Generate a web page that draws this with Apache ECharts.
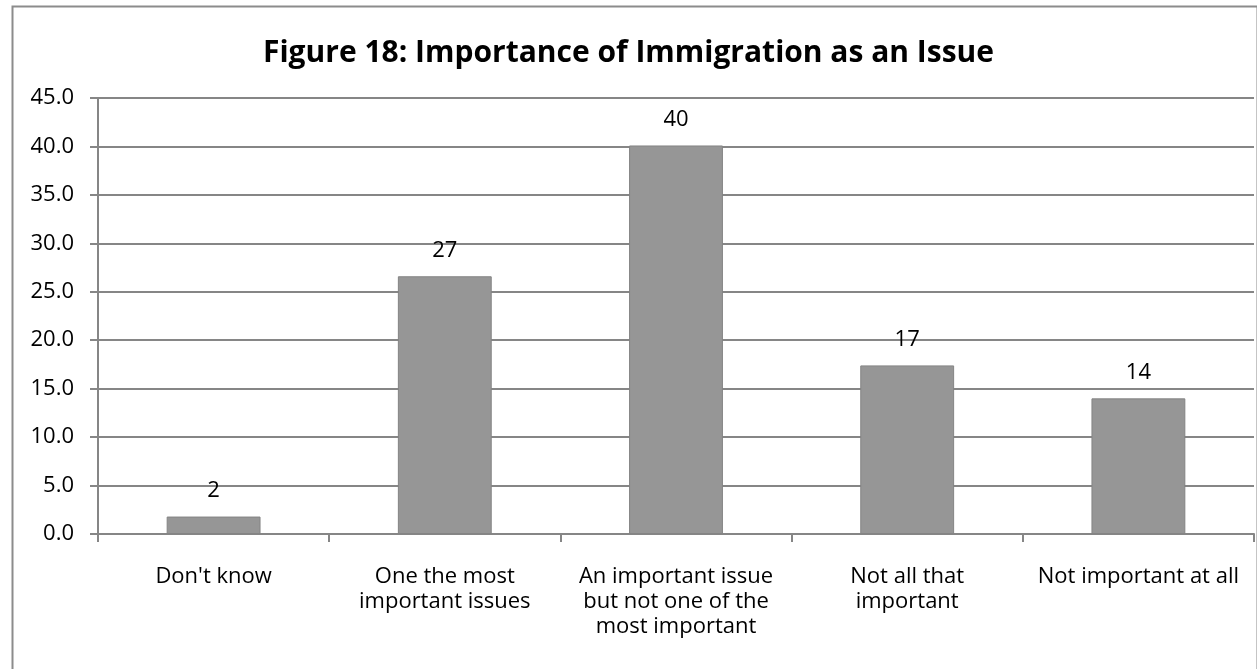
<!DOCTYPE html>
<html>
<head>
<meta charset="utf-8">
<script src="https://cdn.jsdelivr.net/npm/echarts@6/dist/echarts.min.js"></script>
<style>
html,body{margin:0;padding:0;background:#fff;}
#chart{width:1257px;height:669px;}
</style>
</head>
<body>
<div id="chart"></div>
<script>
const titleText = 'Figure 18: Importance of Immigration as an Issue';
const categories = ["Don't know", 'One the most important issues', 'An important issue but not one of the most important', 'Not all that important', 'Not important at all'];
const categoryLabels = ["Don't know", 'One the most\nimportant issues', 'An important issue\nbut not one of the\nmost important', 'Not all that\nimportant', 'Not important at all'];
const values = [1.8, 26.6, 40.1, 17.4, 14.0];
const yMin = 0, yMax = 45, yStep = 5;

const FONT = '"Open Sans", Lato, sans-serif';
const chart = echarts.init(document.getElementById('chart'), null, {renderer: 'canvas'});
chart.setOption({
  animation: false,
  backgroundColor: '#fff',
  title: {
    text: titleText,
    left: 'center',
    top: 33,
    textStyle: {fontFamily: FONT, fontSize: 30, fontWeight: 'bold', color: '#000'}
  },
  graphic: [{
    type: 'rect', left: 10, top: 4,
    shape: {width: 1245, height: 680},
    style: {fill: 'none', stroke: '#8c8c8c', lineWidth: 2},
    silent: true, z: -1
  }],
  grid: {left: 98, right: 3, top: 98, bottom: 135, containLabel: false},
  xAxis: {
    type: 'category',
    data: categories,
    axisLine: {show: true, lineStyle: {color: '#868686', width: 2}},
    axisTick: {show: true, alignWithLabel: false, length: 8, lineStyle: {color: '#868686', width: 2}},
    axisLabel: {
      interval: 0, margin: 30, color: '#000', fontFamily: FONT, fontSize: 22, lineHeight: 25,
      formatter: (v, i) => categoryLabels[i]
    }
  },
  yAxis: {
    type: 'value', min: yMin, max: yMax, interval: yStep,
    axisLine: {show: true, lineStyle: {color: '#868686', width: 2}},
    axisTick: {show: true, length: 8, lineStyle: {color: '#868686', width: 2}},
    splitLine: {show: true, lineStyle: {color: '#868686', width: 2}},
    axisLabel: {margin: 24, color: '#000', fontFamily: FONT, fontSize: 22, formatter: v => v.toFixed(1)}
  },
  series: [{
    type: 'bar',
    data: values,
    barWidth: '40.6%',
    itemStyle: {color: '#969696', borderColor: '#848484', borderWidth: 1},
    label: {
      show: true, position: 'top', distance: 15,
      color: '#000', fontFamily: FONT, fontSize: 22,
      formatter: p => Math.round(p.value).toString()
    }
  }]
});
</script>
</body>
</html>
